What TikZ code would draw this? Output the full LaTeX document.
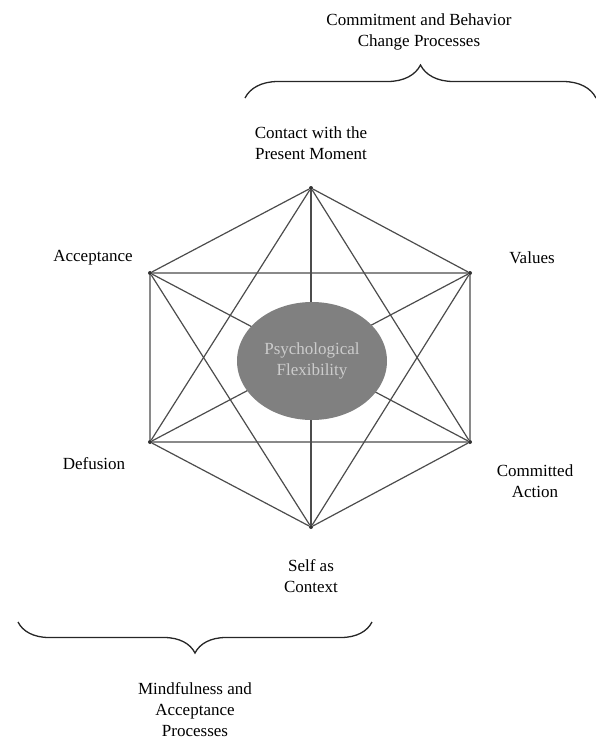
\documentclass[tikz,border=0pt]{standalone}
\usepackage{fontspec}
\setmainfont{Liberation Serif}
\usetikzlibrary{shapes.geometric, decorations.pathreplacing, positioning}

\begin{document}
\begin{tikzpicture}[x=1pt, y=-1pt, every node/.style={font=\fontsize{17}{21}\selectfont, text=black, align=center}]
	\useasboundingbox (0,0) rectangle (596,740);
	\node (cpm) [circle, fill=black!80, inner sep=0pt, minimum size=4pt] at (311,188) {};
	\node (val) [circle, fill=black!80, inner sep=0pt, minimum size=4pt] at (470,273) {};
	\node (com) [circle, fill=black!80, inner sep=0pt, minimum size=4pt] at (470,442) {};
	\node (sac) [circle, fill=black!80, inner sep=0pt, minimum size=4pt] at (311,527) {};
	\node (def) [circle, fill=black!80, inner sep=0pt, minimum size=4pt] at (150,442) {};
	\node (acc) [circle, fill=black!80, inner sep=0pt, minimum size=4pt] at (150,273) {};
	
	% Labels
	\node (cbp_text) at (419,32) {Commitment and Behavior\\Change Processes};
	\node (cpm_text) at (311,143) {Contact with the\\Present Moment};
	\node (acc_text) at (93,258) {Acceptance};
	\node (val_text) at (532,258) {Values};
	\node (def_text) at (94,464) {Defusion};
	\node (com_text) at (535,481) {Committed\\Action};
	\node (sac_text) at (311,576) {Self as\\Context};
	\node (map_text) at (195,710) {Mindfulness and\\Acceptance\\Processes};
	
	% Lines
	\draw [line width=1.2pt, black!70] (cpm) -- (val) -- (com) -- (sac) -- (def) -- (acc) -- (cpm);
	\draw [line width=1.2pt, black!70] (cpm) -- (com) -- (def) -- (cpm);
	\draw [line width=1.2pt, black!70] (val) -- (sac) -- (acc) -- (val);
	\draw [line width=1.2pt, black!70] (cpm) -- (sac);
	\draw [line width=1.2pt, black!70] (val) -- (def);
	\draw [line width=1.2pt, black!70] (acc) -- (com);
	
	\node (flex) [ellipse, minimum width=150pt, minimum height=118pt, fill=black!50, text=black!20] at (312,361) {Psychological\\Flexibility};
	
	% Braces
	\coordinate (cbp_left) at (245,98);
	\coordinate (cbp_right) at (596,98);
	\coordinate (map_left) at (18,622);
	\coordinate (map_right) at (372,622);
	\draw [line width=1.3pt, black!85, decorate, decoration={brace, amplitude=33pt}] (cbp_left) -- (cbp_right);
	\draw [line width=1.3pt, black!85, decorate, decoration={brace, mirror, amplitude=31pt}] (map_left) -- (map_right);
\end{tikzpicture}
\end{document}
